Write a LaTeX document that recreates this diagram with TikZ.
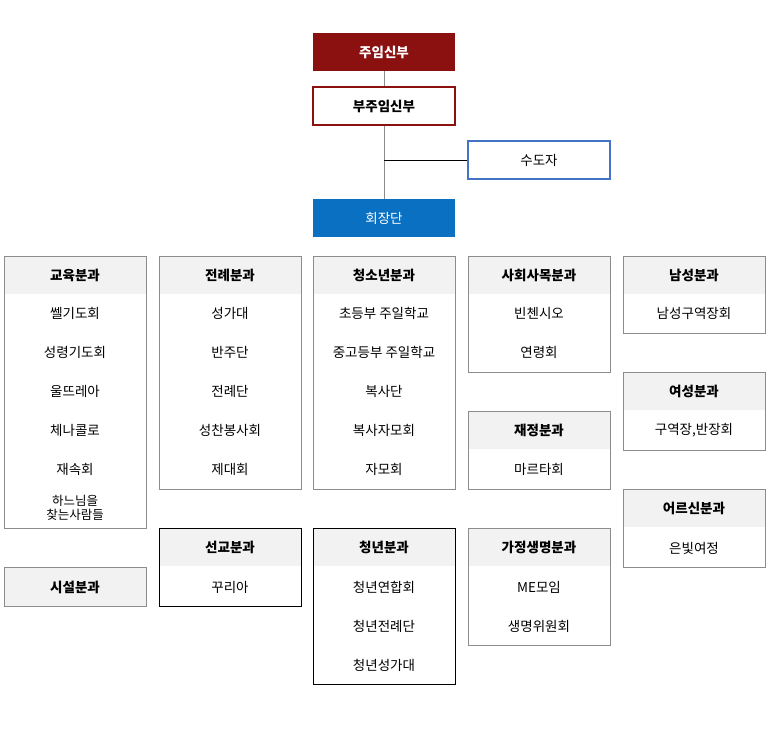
\documentclass[tikz,border=0pt]{standalone}
\usepackage{fontspec}
\setmainfont{Noto Sans CJK KR}
\usetikzlibrary{positioning}
\definecolor{darkred}{HTML}{8B1111}
\definecolor{bluefill}{HTML}{0A70C2}
\definecolor{blueline}{HTML}{4472C4}
\definecolor{headgray}{HTML}{F2F2F2}
\definecolor{linegray}{HTML}{8C8C8C}
\tikzset{
  txt/.style={font=\fontsize{13.5}{15}\selectfont},
  hd/.style={font=\fontsize{13.5}{15}\selectfont\bfseries},
  topbox/.style={minimum width=142pt, minimum height=38pt, inner sep=0pt, hd},
}
% group box: x-left, y-top, height, name, header, border colour
\newcommand{\groupbox}[6]{%
  \fill[headgray] (#1,#2) rectangle ++(142,38);
  \draw[#6] (#1,#2) rectangle ++(142,#3);
  \node[hd] (#4) at (#1+71,#2+19) {#5};
}
\begin{document}
\begin{tikzpicture}[x=1pt,y=-1pt]
	\useasboundingbox (0,0) rectangle (768,749);
	
	% ------------------------------------------------
	% Top of the chart
	\node[topbox, fill=darkred, text=white] (Pastor) at (384,52) {주임신부};
	\node[topbox, draw=darkred, line width=1.2pt] (Assistant) at (384,106) {부주임신부};
	\node[topbox, draw=blueline, line width=1.2pt, font=\fontsize{13.5}{15}\selectfont] (Religious) at (539,160) {수도자};
	\node[topbox, fill=bluefill, text=white, font=\fontsize{13.5}{15}\selectfont] (Council) at (384,218) {회장단};
	
	\draw[linegray] (Pastor) -- (Assistant);
	\draw[linegray] (Assistant) -- (Council);
	\coordinate (Branch) at (384,160);
	\draw[black] (Branch) -- (Religious);
	
	% ------------------------------------------------
	% Column 1
	\groupbox{4}{256}{272}{Edu}{교육분과}{linegray}
	\foreach \t [count=\i] in {쎌기도회,성령기도회,울뜨레아,체나콜로,재속회}
		\node[txt] (Edu\i) at (75,274+39*\i) {\t};
	\node[txt, font=\fontsize{12.5}{14}\selectfont, align=center] (Edu6) at (75,508) {하느님을\\찾는사람들};
	\fill[headgray] (4,567) rectangle ++(142,39);
	\draw[linegray] (4,567) rectangle ++(142,39);
	\node[hd] (Facility) at (75,587) {시설분과};
	
	% Column 2
	\groupbox{159}{256}{233}{Liturgy}{전례분과}{linegray}
	\foreach \t [count=\i] in {성가대,반주단,전례단,성찬봉사회,제대회}
		\node[txt] (Liturgy\i) at (230,274+39*\i) {\t};
	\groupbox{159}{528}{78}{Mission}{선교분과}{black}
	\node[txt] (Mission1) at (230,587) {꾸리아};
	
	% Column 3
	\groupbox{313}{256}{233}{Youth}{청소년분과}{linegray}
	\foreach \t [count=\i] in {초등부 주일학교,중고등부 주일학교,복사단,복사자모회,자모회}
		\node[txt] (Youth\i) at (384,274+39*\i) {\t};
	\groupbox{313}{528}{156}{Young}{청년분과}{black}
	\foreach \t [count=\i] in {청년연합회,청년전례단,청년성가대}
		\node[txt] (Young\i) at (384,548+39*\i) {\t};
	
	% Column 4
	\groupbox{468}{256}{116}{Social}{사회사목분과}{linegray}
	\foreach \t [count=\i] in {빈첸시오,연령회}
		\node[txt] (Social\i) at (539,274+39*\i) {\t};
	\groupbox{468}{411}{78}{Finance}{재정분과}{linegray}
	\node[txt] (Finance1) at (539,469) {마르타회};
	\groupbox{468}{528}{117}{Family}{가정생명분과}{linegray}
	\foreach \t [count=\i] in {ME모임,생명위원회}
		\node[txt] (Family\i) at (539,548+39*\i) {\t};
	
	% Column 5
	\groupbox{623}{256}{77}{Men}{남성분과}{linegray}
	\node[txt] (Men1) at (694,313) {남성구역장회};
	\groupbox{623}{372}{78}{Women}{여성분과}{linegray}
	\node[txt] (Women1) at (694,430) {구역장,반장회};
	\groupbox{623}{489}{78}{Elder}{어르신분과}{linegray}
	\node[txt] (Elder1) at (694,548) {은빛여정};
	
\end{tikzpicture}
\end{document}
